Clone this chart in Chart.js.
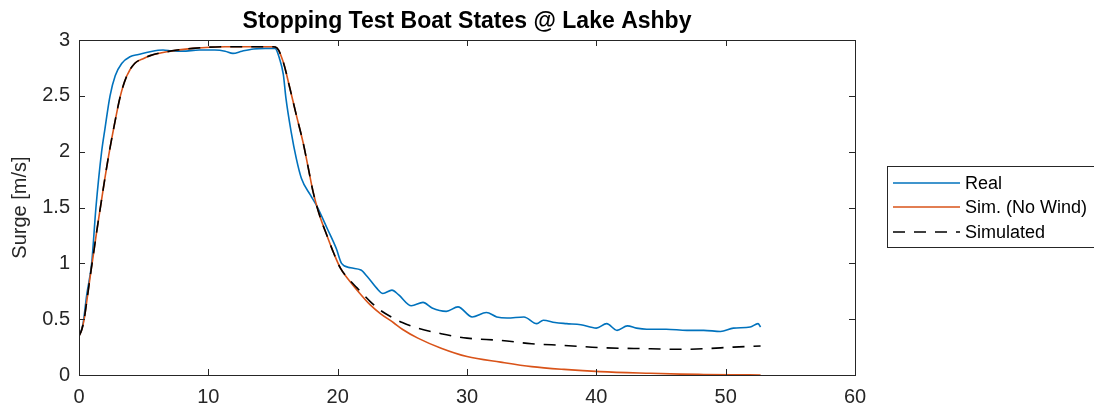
<!DOCTYPE html>
<html>
<head>
<meta charset="utf-8">
<script src="https://cdn.jsdelivr.net/npm/chart.js@4.4.1/dist/chart.umd.min.js"></script>
<style>
  body { margin: 0; background: #fff; }
  #chartBox { width: 1094px; height: 408px; }
</style>
</head>
<body>
<div id="chartBox"><canvas id="surgeChart" width="1094" height="408"></canvas></div>
<script>
// Real boat data (time [s], surge [m/s])
const realTime = [0, 0.3, 0.6, 0.98, 1.31, 1.75, 2.0, 2.4, 2.8, 3.3, 3.94, 4.6, 5.5, 6.5, 7.3, 8.0, 9.3, 10.5, 11.3, 11.9,
    12.6, 13.5, 14.4, 15.16, 15.5, 15.8, 16.0, 16.4, 16.8, 17.2, 17.9, 18.4, 19.2, 19.9, 20.3, 21.0, 21.8, 22.3, 23.0, 23.5,
    24.2, 24.7, 25.7, 26.6, 27.3, 28.4, 29.3, 30.4, 31.5, 32.3, 33.1, 34.4, 35.4, 35.9, 36.8, 37.7, 38.8, 40.0, 40.8, 41.6,
    42.4, 43.1, 43.9, 45.4, 47.0, 48.3, 49.6, 50.6, 51.9, 52.5, 52.7];
const realSurge = [0.35, 0.45, 0.72, 1.0, 1.5, 2.0, 2.2, 2.5, 2.68, 2.79, 2.85, 2.87, 2.895, 2.91, 2.9, 2.9, 2.91, 2.91, 2.9, 2.88,
    2.9, 2.92, 2.925, 2.925, 2.835, 2.69, 2.48, 2.18, 1.94, 1.76, 1.61, 1.51, 1.31, 1.13, 1.0, 0.96, 0.94, 0.88, 0.78, 0.73,
    0.76, 0.72, 0.62, 0.65, 0.6, 0.57, 0.61, 0.52, 0.56, 0.52, 0.51, 0.52, 0.46, 0.49, 0.47, 0.46, 0.45, 0.42, 0.46, 0.40,
    0.44, 0.42, 0.41, 0.41, 0.40, 0.40, 0.39, 0.42, 0.43, 0.46, 0.43];

// Simulation results share one time base
const simTime = [0, 0.2, 0.4, 0.6, 0.85, 1.1, 1.35, 1.6, 2.0, 2.3, 2.7, 3.2, 3.7, 4.3, 5.0, 5.5, 6.8, 8.8, 11.3, 15.0,
    15.3, 15.8, 16.3, 16.8, 17.35, 17.7, 18.1, 18.6, 19.2, 19.7, 20.2, 21.0, 21.5, 22.5, 23.3, 24.3, 25.0, 26.2, 28.0, 30.0,
    32.6, 35.0, 37.5, 40.3, 44.2, 46.5, 48.3, 50.6, 52.7];
const simNoWind = [0.35, 0.4, 0.5, 0.66, 0.87, 1.07, 1.27, 1.46, 1.76, 1.97, 2.22, 2.5, 2.68, 2.79, 2.835, 2.86, 2.895, 2.925, 2.94, 2.94,
    2.93, 2.8, 2.57, 2.33, 2.07, 1.87, 1.64, 1.43, 1.24, 1.09, 0.96, 0.83, 0.76, 0.63, 0.55, 0.47, 0.41, 0.33, 0.24, 0.165,
    0.115, 0.075, 0.05, 0.03, 0.015, 0.008, 0.005, 0.002, 0.0];
const simWind = [0.35, 0.4, 0.5, 0.66, 0.87, 1.07, 1.27, 1.46, 1.76, 1.97, 2.22, 2.5, 2.68, 2.79, 2.835, 2.86, 2.895, 2.925, 2.94, 2.94,
    2.93, 2.8, 2.57, 2.33, 2.07, 1.87, 1.64, 1.43, 1.24, 1.09, 0.96, 0.84, 0.78, 0.66, 0.58, 0.51, 0.47, 0.42, 0.37, 0.33,
    0.31, 0.28, 0.265, 0.245, 0.235, 0.23, 0.235, 0.25, 0.26];

const xTicks = [0, 10, 20, 30, 40, 50, 60];
const yTicks = [0, 0.5, 1, 1.5, 2, 2.5, 3];

const seriesNames = ['Real', 'Sim. (No Wind)', 'Simulated'];
const seriesColors = ['#0072BD', '#D95319', '#000000'];
const dashPattern = [12, 9];

const axisColor = '#262626';
const fontName = "'Liberation Sans', Arial, sans-serif";

function toPoints(xs, ys) {
    return xs.map((t, i) => ({ x: t, y: ys[i] }));
}

// MATLAB style box, inward ticks, title and legend
const matlabFrame = {
    id: 'matlabFrame',
    afterDraw(chart) {
        const ctx = chart.ctx;
        const area = chart.chartArea;
        const xs = chart.scales.x;
        const ys = chart.scales.y;
        ctx.save();
        ctx.strokeStyle = axisColor;
        ctx.lineWidth = 1;
        ctx.strokeRect(Math.round(area.left) + 0.5, Math.round(area.top) + 0.5,
            Math.round(area.right - area.left), Math.round(area.bottom - area.top));

        const tickLen = 6;
        ctx.beginPath();
        xTicks.forEach(v => {
            const px = Math.round(xs.getPixelForValue(v)) + 0.5;
            ctx.moveTo(px, area.bottom);
            ctx.lineTo(px, area.bottom - tickLen);
            ctx.moveTo(px, area.top);
            ctx.lineTo(px, area.top + tickLen);
        });
        yTicks.forEach(v => {
            const py = Math.round(ys.getPixelForValue(v)) + 0.5;
            ctx.moveTo(area.left, py);
            ctx.lineTo(area.left + tickLen, py);
            ctx.moveTo(area.right, py);
            ctx.lineTo(area.right - tickLen, py);
        });
        ctx.stroke();

        // title
        ctx.fillStyle = '#000';
        ctx.font = 'bold 23px ' + fontName;
        ctx.textAlign = 'center';
        ctx.textBaseline = 'alphabetic';
        ctx.fillText('Stopping Test Boat States @ Lake Ashby', (area.left + area.right) / 2, 28);

        // legend box
        const lx = 887, ly = 166, lw = 220, lh = 81;
        ctx.fillStyle = '#fff';
        ctx.fillRect(lx, ly, lw, lh);
        ctx.strokeStyle = axisColor;
        ctx.strokeRect(lx + 0.5, ly + 0.5, lw, lh);
        const rows = [183, 207, 232];
        ctx.font = '18px ' + fontName;
        ctx.textAlign = 'left';
        ctx.textBaseline = 'middle';
        seriesNames.forEach((name, i) => {
            ctx.beginPath();
            ctx.strokeStyle = seriesColors[i];
            ctx.lineWidth = 1.6;
            ctx.setLineDash(i === 2 ? dashPattern : []);
            ctx.moveTo(893, rows[i]);
            ctx.lineTo(960, rows[i]);
            ctx.stroke();
            ctx.setLineDash([]);
            ctx.fillStyle = '#000';
            ctx.fillText(name, 965, rows[i] + 1);
        });
        ctx.restore();
    }
};

const ctx = document.getElementById('surgeChart').getContext('2d');

const surgeChart = new Chart(ctx, {
    type: 'line',
    data: {
        datasets: [
            {
                label: seriesNames[0],
                data: toPoints(realTime, realSurge),
                borderColor: seriesColors[0],
                borderWidth: 1.6,
                pointRadius: 0,
                cubicInterpolationMode: 'monotone',
                order: 3
            },
            {
                label: seriesNames[1],
                data: toPoints(simTime, simNoWind),
                borderColor: seriesColors[1],
                borderWidth: 1.6,
                pointRadius: 0,
                cubicInterpolationMode: 'monotone',
                order: 2
            },
            {
                label: seriesNames[2],
                data: toPoints(simTime, simWind),
                borderColor: seriesColors[2],
                borderWidth: 1.6,
                borderDash: dashPattern,
                pointRadius: 0,
                cubicInterpolationMode: 'monotone',
                order: 1
            }
        ]
    },
    options: {
        responsive: false,
        animation: false,
        layout: { padding: { left: 0, right: 239, top: 40, bottom: 0 } },
        plugins: {
            legend: { display: false },
            tooltip: { enabled: false },
            title: { display: false }
        },
        scales: {
            x: {
                type: 'linear',
                min: 0,
                max: 60,
                afterFit: s => { s.height = 33; },
                afterBuildTicks: s => { s.ticks = xTicks.map(v => ({ value: v })); },
                grid: { display: false, drawTicks: false },
                border: { display: false },
                ticks: {
                    color: axisColor,
                    padding: 10,
                    maxRotation: 0,
                    callback: v => String(v),
                    font: { family: fontName, size: 20 }
                }
            },
            y: {
                type: 'linear',
                min: 0,
                max: 3,
                afterFit: s => { s.width = 79; },
                afterBuildTicks: s => { s.ticks = yTicks.map(v => ({ value: v })); },
                grid: { display: false, drawTicks: false },
                border: { display: false },
                title: {
                    display: true,
                    text: 'Surge [m/s]',
                    color: axisColor,
                    padding: { top: 8, bottom: 0 },
                    font: { family: fontName, size: 20 }
                },
                ticks: {
                    color: axisColor,
                    padding: 9,
                    callback: v => String(v),
                    font: { family: fontName, size: 20 }
                }
            }
        }
    },
    plugins: [matlabFrame]
});
</script>
</body>
</html>
